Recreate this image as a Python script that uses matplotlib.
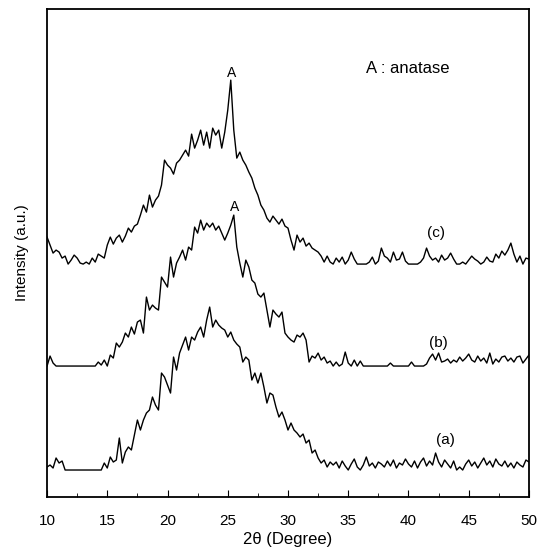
import numpy as np
import matplotlib
matplotlib.use("Agg")
import matplotlib.pyplot as plt
from matplotlib.ticker import MultipleLocator

plt.rcParams['font.family'] = ['Liberation Sans', 'DejaVu Sans']

# XRD patterns, every 0.25 deg (10 -> 50), relative to own baseline
pattern_a = [
    3, 5, 2, 12, 7, 9, 0, 0,
    0, 0, 0, 0, 0, 0, 0, 0,
    0, 0, 0, 7, 2, 13, 8, 10,
    32, 7, 18, 23, 20, 35, 50, 40,
    50, 57, 60, 73, 65, 60, 97, 93,
    85, 77, 113, 100, 117, 125, 133, 120,
    133, 130, 138, 143, 133, 150, 163, 143,
    150, 145, 142, 140, 133, 138, 130, 126,
    123, 108, 113, 110, 90, 97, 87, 97,
    83, 67, 77, 75, 63, 53, 58, 50,
    40, 47, 40, 37, 33, 36, 27, 30,
    17, 20, 12, 7, 10, 3, 8, 5,
    8, 2, 9, 4, 0, 6, 11, 3,
    0, 5, 13, 4, 7, 2, 8, 6,
    3, 9, 4, 10, 2, 7, 5, 11,
    6, 3, 9, 2, 8, 12, 4, 9,
    5, 17, 8, 3, 10, 6, 2, 9,
    0, 3, 0, 6, 10, 4, 8, 2,
    7, 12, 5, 9, 3, 11, 6, 4,
    9, 3, 7, 2, 8, 5, 3, 10,
    8,
]
pattern_b = [
    0, 10, 3, 0, 0, 0, 0, 0,
    0, 0, 0, 0, 0, 0, 0, 0,
    0, 4, 1, 6, 0, 11, 8, 23,
    19, 24, 33, 29, 39, 32, 44, 46,
    33, 69, 56, 61, 58, 56, 89, 84,
    79, 109, 89, 103, 109, 116, 106, 119,
    116, 139, 133, 146, 136, 143, 139, 143,
    136, 140, 133, 126, 133, 141, 151, 119,
    103, 89, 106, 99, 86, 83, 72, 69,
    73, 56, 39, 56, 52, 49, 54, 33,
    29, 26, 24, 31, 29, 33, 26, 4,
    10, 8, 13, 6, 9, 3, 5, 0,
    4, 0, 2, 14, 3, 0, 6, 0,
    5, 0, 0, 0, 0, 0, 0, 0,
    0, 0, 3, 0, 0, 0, 0, 0,
    0, 4, 0, 0, 0, 0, 2, 8,
    12, 6, 13, 4, 5, 7, 3, 6,
    4, 9, 5, 8, 12, 6, 4, 10,
    5, 8, 3, 13, 2, 7, 4, 9,
    10, 5, 8, 4, 9, 10, 3, 7,
    11,
]
pattern_c = [
    27, 19, 11, 14, 12, 6, 8, 0,
    4, 9, 6, 1, 0, 2, 0, 6,
    2, 10, 8, 6, 19, 27, 20, 26,
    29, 22, 28, 36, 32, 38, 40, 49,
    59, 52, 69, 57, 64, 68, 79, 104,
    99, 96, 90, 101, 104, 109, 114, 108,
    130, 116, 124, 134, 119, 132, 116, 136,
    129, 134, 116, 132, 154, 184, 134, 106,
    112, 104, 99, 92, 86, 76, 69, 59,
    54, 46, 42, 48, 44, 40, 45, 38,
    36, 24, 14, 29, 22, 26, 18, 21,
    16, 14, 12, 8, 2, 8, 2, 0,
    6, 2, 7, 0, 4, 12, 5, 0,
    0, 0, 0, 2, 7, 0, 3, 16,
    8, 6, 2, 12, 4, 5, 12, 3,
    0, 0, 0, 0, 2, 6, 16, 8,
    4, 6, 2, 9, 4, 6, 11, 5,
    0, 0, 2, 0, 4, 8, 5, 3,
    0, 2, 7, 3, 2, 10, 6, 13,
    9, 14, 21, 10, 2, 8, 0, 6,
    5,
]
offsets = [27, 131, 233]
labels = ['(a)', '(b)', '(c)']
label_pos = [(43.1, 57), (42.5, 154), (42.25, 264)]

two_theta = np.linspace(10, 50, 161)

fig = plt.figure(figsize=(5.47, 5.55), dpi=100)
ax = fig.add_axes([0.086, 0.1045, 0.881, 0.879])

for pat, off in zip([pattern_a, pattern_b, pattern_c], offsets):
    ax.plot(two_theta, np.array(pat) + off, color='black', lw=1.0)

for lab, (x, y) in zip(labels, label_pos):
    ax.text(x, y, lab, fontsize=11, ha='center', va='center')

ax.text(25.33, 424, 'A', fontsize=10, ha='center', va='center')
ax.text(25.6, 290, 'A', fontsize=10, ha='center', va='center')
ax.text(39.9, 429, 'A : anatase', fontsize=12, ha='center', va='center')

ax.set_xlim(10, 50)
ax.set_ylim(0, 488)
ax.xaxis.set_major_locator(MultipleLocator(5))
ax.xaxis.set_minor_locator(MultipleLocator(2.5))
ax.tick_params(axis='x', which='both', direction='in', top=False, labelsize=11, pad=12)
ax.tick_params(axis='x', which='major', length=5)
ax.tick_params(axis='x', which='minor', length=3)
ax.set_yticks([])
for s in ax.spines.values():
    s.set_linewidth(1.3)

ax.set_xlabel('2θ (Degree)', fontsize=12, labelpad=3)
ax.set_ylabel('Intensity (a.u.)', fontsize=11, labelpad=13)

fig.savefig('out.png', dpi=100)
